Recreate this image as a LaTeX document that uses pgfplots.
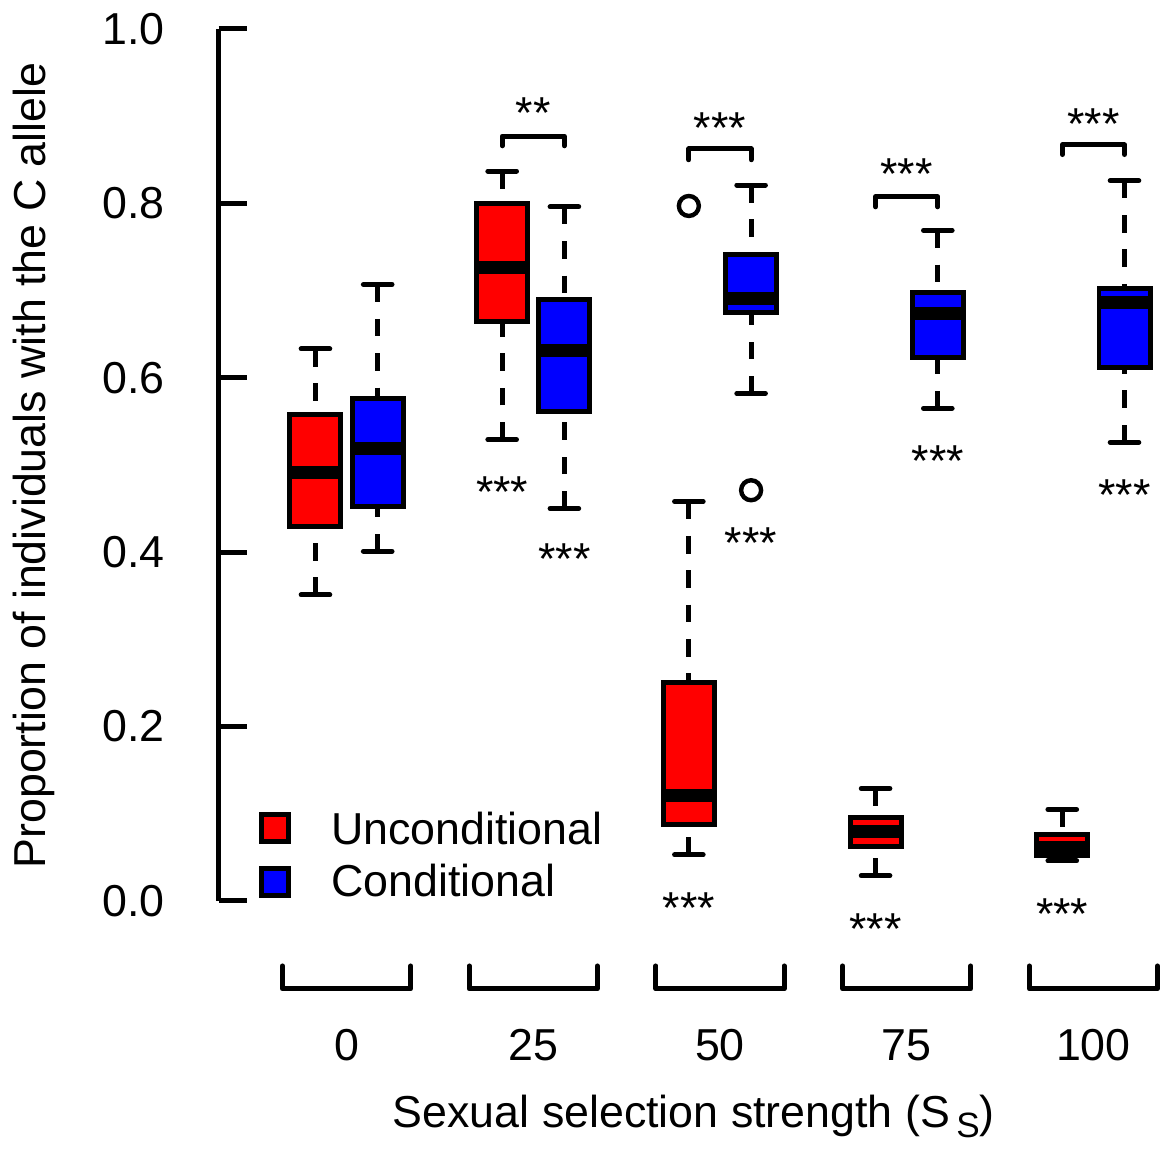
\documentclass[border=0pt]{standalone}
\usepackage{fontspec}
\setmainfont{Liberation Sans}
\usepackage{pgfplots}
\pgfplotsset{compat=1.18}
\usepgfplotslibrary{statistics}

\definecolor{rred}{RGB}{255,0,0}
\definecolor{rblue}{RGB}{0,0,255}

\pgfplotsset{
  rbox/.style={
    boxplot/draw direction=y,
    boxplot/box extend=0.82,
    boxplot/whisker extend=0.46,
    boxplot/every box/.style={draw=black, line width=1.25pt, fill=#1},
    boxplot/every median/.style={draw=black, line width=3.2pt},
    boxplot/every whisker/.style={draw=black, line width=1.25pt},
    boxplot/draw/lower whisker/.code={
      \draw[/pgfplots/boxplot/every whisker/.try, dash pattern=on 4.4pt off 4.2pt]
        (boxplot cs:\pgfplotsboxplotvalue{lower whisker}) -- (boxplot cs:\pgfplotsboxplotvalue{lower quartile});
      \draw[/pgfplots/boxplot/every whisker/.try, line cap=round]
        (boxplot whisker cs:\pgfplotsboxplotvalue{lower whisker},0) -- (boxplot whisker cs:\pgfplotsboxplotvalue{lower whisker},1);
    },
    boxplot/draw/upper whisker/.code={
      \draw[/pgfplots/boxplot/every whisker/.try, dash pattern=on 4.4pt off 4.2pt]
        (boxplot cs:\pgfplotsboxplotvalue{upper whisker}) -- (boxplot cs:\pgfplotsboxplotvalue{upper quartile});
      \draw[/pgfplots/boxplot/every whisker/.try, line cap=round]
        (boxplot whisker cs:\pgfplotsboxplotvalue{upper whisker},0) -- (boxplot whisker cs:\pgfplotsboxplotvalue{upper whisker},1);
    },
  },
}
\tikzset{
  stars/.style={anchor=base, yshift=-5.6pt, inner sep=0pt},
  brk/.style={line width=1.25pt, line join=round, line cap=round},
}

\begin{document}
\begin{tikzpicture}[font=\fontsize{11.2}{13.4}\selectfont]
\begin{axis}[
    scale only axis,
    width=235.5pt, height=218.25pt,
    xmin=-0.557, xmax=14.563,
    ymin=0, ymax=1,
    axis x line=none,
    axis y line*=left,
    y axis line style={line width=1.25pt},
    xtick=\empty,
    ytick={0,0.2,0.4,0.6,0.8,1.0},
    yticklabels={0.0,0.2,0.4,0.6,0.8,1.0},
    tick align=inside,
    major tick length=7pt,
    ytick style={line width=1.25pt, black},
    yticklabel style={inner sep=0pt, xshift=-13.3pt, font=\fontsize{11.2}{13.4}\selectfont},
    clip=false,
]
% invisible frame giving the picture its proportions
\path (axis cs:-4.056,-0.2795) rectangle (axis cs:14.563,1.0332);

% S = 0
\addplot[rbox=rred, boxplot prepared={draw position=1, lower whisker=0.351, lower quartile=0.429, median=0.491, upper quartile=0.558, upper whisker=0.633}] coordinates {};
\addplot[rbox=rblue, boxplot prepared={draw position=2, lower whisker=0.401, lower quartile=0.452, median=0.519, upper quartile=0.576, upper whisker=0.707}] coordinates {};
% S = 25
\addplot[rbox=rred, boxplot prepared={draw position=4, lower whisker=0.529, lower quartile=0.664, median=0.726, upper quartile=0.800, upper whisker=0.837}] coordinates {};
\addplot[rbox=rblue, boxplot prepared={draw position=5, lower whisker=0.450, lower quartile=0.561, median=0.631, upper quartile=0.690, upper whisker=0.796}] coordinates {};
% S = 50
\addplot[rbox=rred, boxplot prepared={draw position=7, lower whisker=0.053, lower quartile=0.088, median=0.121, upper quartile=0.251, upper whisker=0.458}] coordinates {};
\addplot[rbox=rblue, boxplot prepared={draw position=8, lower whisker=0.582, lower quartile=0.675, median=0.691, upper quartile=0.741, upper whisker=0.821}] coordinates {};
% S = 75
\addplot[rbox=rred, boxplot prepared={draw position=10, lower whisker=0.029, lower quartile=0.063, median=0.080, upper quartile=0.096, upper whisker=0.129}] coordinates {};
\addplot[rbox=rblue, boxplot prepared={draw position=11, lower whisker=0.565, lower quartile=0.623, median=0.674, upper quartile=0.698, upper whisker=0.769}] coordinates {};
% S = 100
\addplot[rbox=rred, boxplot prepared={draw position=13, lower whisker=0.046, lower quartile=0.052, median=0.061, upper quartile=0.076, upper whisker=0.105}] coordinates {};
\addplot[rbox=rblue, boxplot prepared={draw position=14, lower whisker=0.526, lower quartile=0.612, median=0.686, upper quartile=0.702, upper whisker=0.826}] coordinates {};

% outliers
\addplot[only marks, mark=o, mark size=2.5pt, line width=1.1pt, black] coordinates {(7,0.797) (8,0.471)};

% significance brackets between treatments
\draw[brk] (axis cs:4,0.866) -- (axis cs:4,0.877) -- (axis cs:5,0.877) -- (axis cs:5,0.866);
\draw[brk] (axis cs:7,0.850) -- (axis cs:7,0.8625) -- (axis cs:8,0.8625) -- (axis cs:8,0.850);
\draw[brk] (axis cs:10,0.796) -- (axis cs:10,0.8076) -- (axis cs:11,0.8076) -- (axis cs:11,0.796);
\draw[brk] (axis cs:13,0.856) -- (axis cs:13,0.867) -- (axis cs:14,0.867) -- (axis cs:14,0.856);
\node[stars] at (axis cs:4.5,0.912) {**};
\node[stars] at (axis cs:7.5,0.8946) {***};
\node[stars] at (axis cs:10.5,0.841) {***};
\node[stars] at (axis cs:13.5,0.899) {***};

% stars below boxes
\node[stars] at (axis cs:4,0.4765) {***};
\node[stars] at (axis cs:5,0.400) {***};
\node[stars] at (axis cs:7,0.000) {***};
\node[stars] at (axis cs:8,0.418) {***};
\node[stars] at (axis cs:10,-0.024) {***};
\node[stars] at (axis cs:11,0.512) {***};
\node[stars] at (axis cs:13,-0.007) {***};
\node[stars] at (axis cs:14,0.474) {***};

% group brackets on the x axis
\draw[brk] (axis cs:0.47,-0.0745) -- (axis cs:0.47,-0.1008) -- (axis cs:2.53,-0.1008) -- (axis cs:2.53,-0.0745);
\draw[brk] (axis cs:3.47,-0.0745) -- (axis cs:3.47,-0.1008) -- (axis cs:5.53,-0.1008) -- (axis cs:5.53,-0.0745);
\draw[brk] (axis cs:6.47,-0.0745) -- (axis cs:6.47,-0.1008) -- (axis cs:8.53,-0.1008) -- (axis cs:8.53,-0.0745);
\draw[brk] (axis cs:9.47,-0.0745) -- (axis cs:9.47,-0.1008) -- (axis cs:11.53,-0.1008) -- (axis cs:11.53,-0.0745);
\draw[brk] (axis cs:12.47,-0.0745) -- (axis cs:12.47,-0.1008) -- (axis cs:14.53,-0.1008) -- (axis cs:14.53,-0.0745);
\node[anchor=base] at (axis cs:1.5,-0.1833) {0};
\node[anchor=base] at (axis cs:4.5,-0.1833) {25};
\node[anchor=base] at (axis cs:7.5,-0.1833) {50};
\node[anchor=base] at (axis cs:10.5,-0.1833) {75};
\node[anchor=base] at (axis cs:13.5,-0.1833) {100};

% axis titles
\node[anchor=base] at (axis cs:7.08,-0.2600)
  {Sexual selection strength (S\hspace{1.6pt}\raisebox{-2.5pt}{\fontsize{8.8}{10}\selectfont S})};
\node[anchor=base, rotate=90] at (axis cs:-3.334,0.4994)
  {Proportion of individuals with the C allele};

% legend
\node[draw=black, line width=1.25pt, fill=rred, minimum size=6.75pt, inner sep=0pt] at (axis cs:0.35,0.0836) {};
\node[draw=black, line width=1.25pt, fill=rblue, minimum size=6.75pt, inner sep=0pt] at (axis cs:0.35,0.0218) {};
\node[anchor=base west, inner sep=0pt] at (axis cs:1.24,0.0653) {Unconditional};
\node[anchor=base west, inner sep=0pt] at (axis cs:1.24,0.0046) {Conditional};
\end{axis}
\end{tikzpicture}
\end{document}
